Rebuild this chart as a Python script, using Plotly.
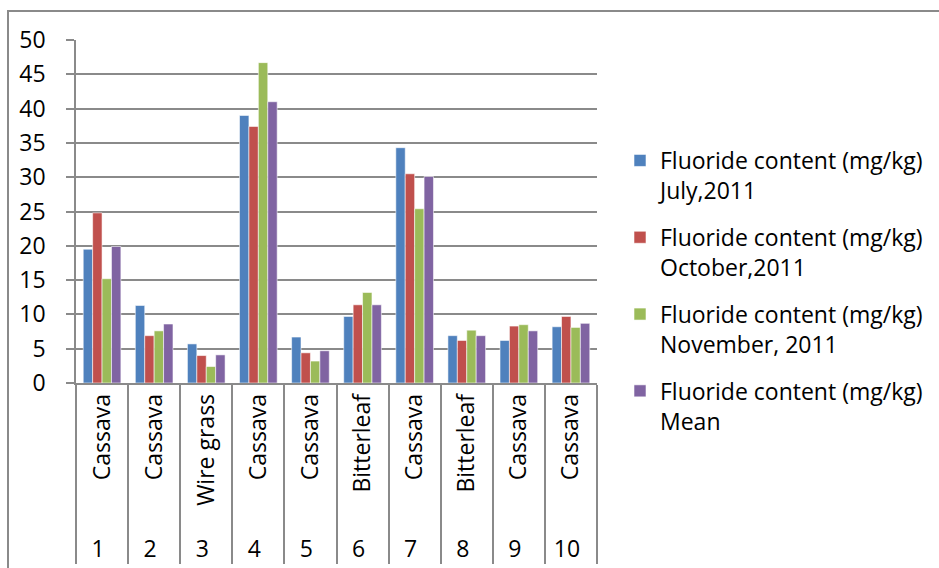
import plotly.graph_objects as go

sample_no = ["1", "2", "3", "4", "5", "6", "7", "8", "9", "10"]
plants = ["Cassava", "Cassava", "Wire grass", "Cassava", "Cassava",
          "Bitterleaf", "Cassava", "Bitterleaf", "Cassava", "Cassava"]

july = [19.5, 11.3, 5.7, 39.0, 6.7, 9.7, 34.3, 6.9, 6.2, 8.2]
october = [24.8, 6.9, 4.0, 37.4, 4.4, 11.4, 30.5, 6.2, 8.3, 9.7]
november = [15.2, 7.6, 2.4, 46.7, 3.2, 13.2, 25.4, 7.7, 8.5, 8.1]
mean = [19.9, 8.6, 4.1, 41.0, 4.7, 11.4, 30.1, 6.9, 7.6, 8.7]

series_names = [
    "Fluoride content (mg/kg)<br>July,2011",
    "Fluoride content (mg/kg)<br>October,2011",
    "Fluoride content (mg/kg)<br>November, 2011",
    "Fluoride content (mg/kg)<br>Mean",
]
series_values = [july, october, november, mean]
colors = ["#4F81BD", "#C0504D", "#9BBB59", "#8064A2"]

GRID = "#8a8a8a"
FONT = "Open Sans"
FS = 23

fig = go.Figure()
for i, (name, vals, col) in enumerate(zip(series_names, series_values, colors)):
    fig.add_trace(go.Bar(
        x=[sample_no, plants], y=vals, name=name,
        marker=dict(color=col, line=dict(color="rgba(255,255,255,0.7)", width=0.8)),
        legendgroup=f"g{i}",
    ))

W, H = 939, 568
L, R, T, B = 76, 342, 40, 185
pw, ph = W - L - R, H - T - B

def px(x):
    return (x - L) / pw

def py(y):
    return (H - B - y) / ph

fig.update_layout(
    width=W, height=H,
    margin=dict(l=L, r=R, t=T, b=B, autoexpand=False),
    paper_bgcolor="white", plot_bgcolor="white",
    barmode="group", bargap=0.277, bargroupgap=0,
    font=dict(family=FONT, size=FS, color="#000000"),
    showlegend=True,
    legend=dict(x=px(620), xanchor="left", y=py(139), yanchor="top",
                font=dict(family=FONT, size=FS, color="#000000"),
                tracegroupgap=14, itemwidth=30, valign="top",
                bgcolor="rgba(0,0,0,0)"),
    xaxis=dict(
        type="multicategory", tickangle=-90,
        tickprefix="\u00a0",
        showline=True, linecolor=GRID, linewidth=1.5,
        showdividers=True, dividercolor=GRID, dividerwidth=1.5,
        ticks="", showgrid=False,
        tickfont=dict(family=FONT, size=FS, color="#000000"),
    ),
    yaxis=dict(
        range=[0, 50], dtick=5, tick0=0,
        showgrid=True, gridcolor=GRID, gridwidth=1.5,
        showline=True, linecolor=GRID, linewidth=1.5,
        ticks="outside", ticklen=8, tickcolor=GRID, tickwidth=1.5,
        ticklabelstandoff=16,
        zeroline=False,
        tickfont=dict(family=FONT, size=FS, color="#000000"),
    ),
    shapes=[dict(type="rect", xref="paper", yref="paper",
                 x0=px(8), x1=px(960), y0=py(600), y1=py(11),
                 line=dict(color=GRID, width=2), fillcolor="rgba(0,0,0,0)",
                 layer="below")],
)

fig.write_html("out.html")
